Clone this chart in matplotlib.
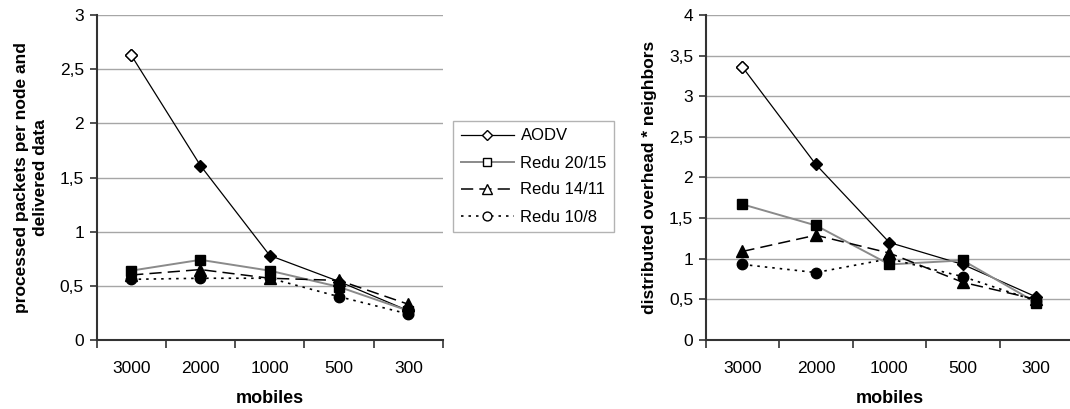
import matplotlib
matplotlib.use("Agg")
import matplotlib.pyplot as plt
from matplotlib.lines import Line2D
from matplotlib.ticker import FuncFormatter, MultipleLocator

plt.rcParams['font.family'] = ['Liberation Sans', 'DejaVu Sans']

# Number of mobile nodes (categories along the x axis)
mobiles = ["3000", "2000", "1000", "500", "300"]
series_names = ["AODV", "Redu 20/15", "Redu 14/11", "Redu 10/8"]

# Left panel: processed packets per node and delivered data
packets_aodv = [2.63, 1.61, 0.78, 0.54, 0.27]
packets_redu_20_15 = [0.64, 0.74, 0.64, 0.49, 0.27]
packets_redu_14_11 = [0.60, 0.65, 0.57, 0.55, 0.33]
packets_redu_10_8 = [0.56, 0.57, 0.57, 0.40, 0.24]

# Right panel: distributed overhead * neighbors
overhead_aodv = [3.36, 2.16, 1.20, 0.93, 0.53]
overhead_redu_20_15 = [1.67, 1.41, 0.93, 0.98, 0.46]
overhead_redu_14_11 = [1.09, 1.29, 1.07, 0.71, 0.50]
overhead_redu_10_8 = [0.93, 0.83, 1.00, 0.78, 0.48]

styles = [
    dict(color="black", lw=0.9, ls="-", marker="D", ms=6.5),
    dict(color="#8a8a8a", lw=1.4, ls="-", marker="s", ms=7.5),
    dict(color="black", lw=1.1, ls=(0, (8, 4)), marker="^", ms=8),
    dict(color="black", lw=1.2, ls=(0, (1.5, 3)), marker="o", ms=7.5),
]

W, H = 1070, 409
fig = plt.figure(figsize=(W / 100, H / 100), dpi=100)

ax_left = fig.add_axes([96.5 / W, (H - 340) / H, 346.5 / W, 325 / H])
ax_right = fig.add_axes([705.7 / W, (H - 340) / H, 367.3 / W, 325 / H])

comma = FuncFormatter(lambda v, _: f"{v:g}".replace(".", ","))


def draw_panel(ax, data, ymax, ylabel, label_x):
    x = list(range(len(mobiles)))
    for values, st in zip(data, styles):
        ax.plot(x, values, color=st["color"], lw=st["lw"], ls=st["ls"],
                marker=st["marker"], ms=st["ms"], mfc="black", mec="black",
                zorder=3)
    # the AODV series opens with a hollow marker
    st = styles[0]
    ax.plot(x[:1], data[0][:1], ls="none", marker=st["marker"], ms=st["ms"],
            mfc="white", mec="black", mew=1.0, zorder=4)

    ax.set_xlim(-0.5, len(mobiles) - 0.5)
    ax.set_ylim(0, ymax)
    ax.set_xticks([i - 0.5 for i in range(len(mobiles) + 1)])
    ax.set_xticklabels([])
    ax.set_xticks(x, minor=True)
    ax.set_xticklabels(mobiles, minor=True)
    ax.tick_params(axis="x", which="minor", length=0, pad=15, labelsize=12.5)
    ax.tick_params(axis="x", which="major", length=6, width=1.2,
                   direction="out", color="#333333")
    ax.yaxis.set_major_locator(MultipleLocator(0.5))
    ax.yaxis.set_major_formatter(comma)
    ax.tick_params(axis="y", length=5, width=1.2, direction="out",
                   color="#333333", labelsize=12.5, pad=4)
    ax.grid(axis="y", color="#a6a6a6", lw=1.0)
    ax.set_axisbelow(True)
    for side in ("top", "right"):
        ax.spines[side].set_visible(False)
    for side in ("left", "bottom"):
        ax.spines[side].set_color("#333333")
        ax.spines[side].set_linewidth(1.5)
    ax.set_xlabel("mobiles", fontsize=13, fontweight="bold", labelpad=10)
    ax.set_ylabel(ylabel, fontsize=12.5, fontweight="bold",
                  multialignment="center", linespacing=1.3)
    ax.yaxis.set_label_coords(label_x, 0.5)


draw_panel(ax_left,
           [packets_aodv, packets_redu_20_15, packets_redu_14_11, packets_redu_10_8],
           3, "processed packets per node and\ndelivered data", -0.14)
draw_panel(ax_right,
           [overhead_aodv, overhead_redu_20_15, overhead_redu_14_11, overhead_redu_10_8],
           4, "distributed overhead * neighbors", -0.133)

handles = [Line2D([], [], color=st["color"], lw=st["lw"], ls=st["ls"],
                  marker=st["marker"], ms=st["ms"] * 0.85, mfc="white",
                  mec="black", mew=1.0)
           for st in styles]
leg = fig.legend(handles, series_names, loc="upper left",
                 bbox_to_anchor=(453 / W, 1 - 121 / H), fontsize=12,
                 frameon=True, fancybox=False, handlelength=3.2,
                 handletextpad=0.4, labelspacing=0.72, borderpad=0.45,
                 borderaxespad=0)
leg.get_frame().set_edgecolor("#a0a0a0")
leg.get_frame().set_linewidth(1.0)

fig.savefig("out.png", dpi=100)
